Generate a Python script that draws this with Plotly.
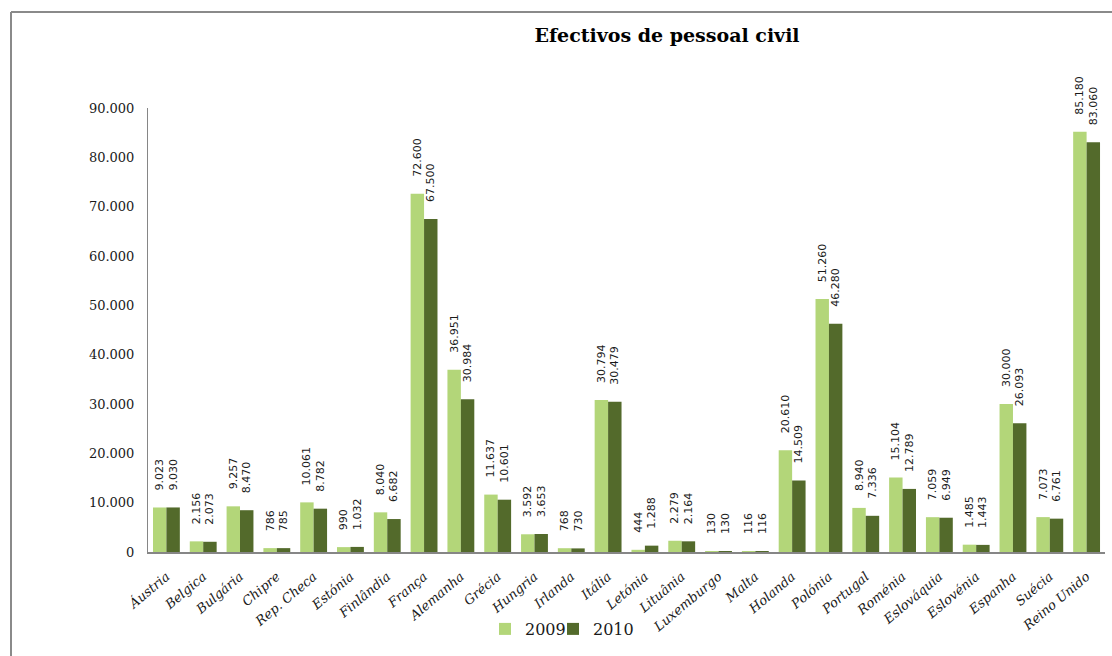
import plotly.graph_objects as go

countries = ["Áustria", "Belgica", "Bulgária", "Chipre", "Rep. Checa", "Estónia", "Finlândia",
             "França", "Alemanha", "Grécia", "Hungria", "Irlanda", "Itália", "Letónia", "Lituânia",
             "Luxemburgo", "Malta", "Holanda", "Polónia", "Portugal", "Roménia", "Eslováquia",
             "Eslovénia", "Espanha", "Suécia", "Reino Unido"]
v2009 = [9023, 2156, 9257, 786, 10061, 990, 8040, 72600, 36951, 11637, 3592, 768, 30794, 444,
         2279, 130, 116, 20610, 51260, 8940, 15104, 7059, 1485, 30000, 7073, 85180]
v2010 = [9030, 2073, 8470, 785, 8782, 1032, 6682, 67500, 30984, 10601, 3653, 730, 30479, 1288,
         2164, 130, 116, 14509, 46280, 7336, 12789, 6949, 1443, 26093, 6761, 83060]
series_names = ["2009", "2010"]
y_ticks = [0, 10000, 20000, 30000, 40000, 50000, 60000, 70000, 80000, 90000]

W, H = 1112, 656
L, R, T, B = 148, 7, 108, 104
pw, ph = W - L - R, H - T - B

serif = "DejaVu Serif"
lab_font = dict(family="DejaVu Sans", size=11, color="#1a1a1a")
pad = "\u00a0" * 4  # gap between bar top and rotated label

fig = go.Figure()
fig.add_trace(go.Bar(x=countries, y=v2009, name=series_names[0], legend="legend",
                     marker=dict(color="#b3d679", line=dict(width=0)),
                     texttemplate=pad + "%{y:,}", textposition="outside", textangle=-90,
                     constraintext="none",
                     textfont=lab_font, cliponaxis=False))
fig.add_trace(go.Bar(x=countries, y=v2010, name=series_names[1], legend="legend2",
                     marker=dict(color="#536a2b", line=dict(width=0)),
                     texttemplate=pad + "%{y:,}", textposition="outside", textangle=-90,
                     constraintext="none",
                     textfont=lab_font, cliponaxis=False))

leg_common = dict(orientation="h", xref="container", yref="container",
                  y=1 - 629 / H, xanchor="left", yanchor="middle",
                  font=dict(family=serif, size=16, color="#1a1a1a"),
                  itemwidth=30, bgcolor="rgba(0,0,0,0)")

fig.update_layout(
    width=W, height=H,
    margin=dict(l=L, r=R, t=T, b=B, autoexpand=False),
    paper_bgcolor="white", plot_bgcolor="white",
    separators=",.",
    barmode="group", bargap=0.27, bargroupgap=0,
    title=dict(text="<b>Efectivos de pessoal civil</b>", xref="container", yref="container",
               x=667 / W, y=1 - 35 / H, xanchor="center", yanchor="middle",
               font=dict(family=serif, size=19, color="black")),
    legend=dict(x=485 / W, **leg_common),
    legend2=dict(x=553 / W, **leg_common),
    xaxis=dict(showline=True, linecolor="#868686", linewidth=2, tickangle=-40,
               tickfont=dict(family=serif, size=13, style="italic", color="#1a1a1a"),
               ticks="", ticklabelstandoff=10, showgrid=False, zeroline=False,
               automargin=False),
    yaxis=dict(range=[0, 90000], tickvals=y_ticks, tickformat=",", showline=True,
               linecolor="#868686", linewidth=1, showgrid=False, zeroline=False,
               ticks="", ticklabelstandoff=10, automargin=False,
               tickfont=dict(family=serif, size=13, color="#1a1a1a")),
    showlegend=True,
)

# outer chart frame: only the left and top edges fall inside the canvas
fx0 = (11 - L) / pw
fy1 = (H - 12 - B) / ph
fig.add_shape(type="line", xref="paper", yref="paper", x0=fx0, x1=(W - L) / pw,
              y0=fy1, y1=fy1, line=dict(color="#8a8a8a", width=2), layer="below")
fig.add_shape(type="line", xref="paper", yref="paper", x0=fx0, x1=fx0,
              y0=fy1, y1=-B / ph, line=dict(color="#8a8a8a", width=2), layer="below")

fig.write_html("out.html")
